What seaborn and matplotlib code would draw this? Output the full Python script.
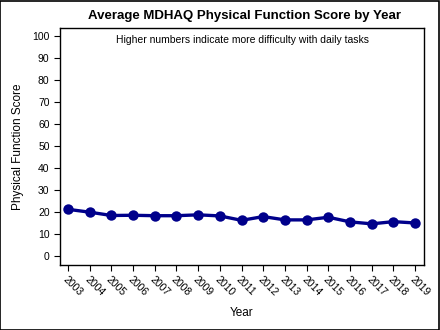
import matplotlib
matplotlib.use("Agg")
import matplotlib.pyplot as plt
import seaborn as sns
import pandas as pd
from matplotlib.patches import Rectangle

years = ["2003", "2004", "2005", "2006", "2007", "2008", "2009", "2010", "2011",
         "2012", "2013", "2014", "2015", "2016", "2017", "2018", "2019"]
scores = [21.2, 19.9, 18.4, 18.5, 18.3, 18.3, 18.7, 18.2, 16.2,
          17.9, 16.4, 16.4, 17.6, 15.5, 14.6, 15.6, 15.0]
yticks = list(range(0, 101, 10))

sns.set_style("white")
plt.rcParams['font.family'] = ['Liberation Sans', 'DejaVu Sans']
plt.rcParams['text.color'] = 'black'
plt.rcParams['axes.labelcolor'] = 'black'
plt.rcParams['xtick.color'] = 'black'
plt.rcParams['ytick.color'] = 'black'

df = pd.DataFrame({"Year": years, "Score": scores})
df["pos"] = range(len(years))

fig = plt.figure(figsize=(4.4, 3.3), dpi=100)
ax = fig.add_axes([60/440, 65/330, 364/440, 237/330])

sns.lineplot(data=df, x="pos", y="Score", ax=ax, color="#00008B",
             linewidth=2.4, marker="o", markersize=7.5, markeredgewidth=0)

ax.set_xlim(-0.37, len(years) - 1 + 0.41)
ax.set_ylim(-4.1, 103.6)
ax.set_yticks(yticks)
ax.set_yticklabels([str(v) for v in yticks], fontsize=7.5)
ax.set_xticks(range(len(years)))
ax.set_xticklabels(years, rotation=-45, ha="left", va="top",
                   rotation_mode="anchor", fontsize=7.5)
ax.tick_params(axis="both", which="both", direction="out", length=4,
               width=0.8, color="black", labelcolor="black", left=True, bottom=True)
ax.tick_params(axis="x", pad=3)
for s in ax.spines.values():
    s.set_color("black")
    s.set_linewidth(1.0)

ax.set_xlabel("Year", fontsize=8.5, labelpad=6, color="black")
ax.set_ylabel("Physical Function Score", fontsize=8.5, labelpad=6, color="black")
ax.text(0.5, 0.97, "Higher numbers indicate more difficulty with daily tasks",
        transform=ax.transAxes, ha="center", va="top", fontsize=7.5, color="black")
fig.text(0.555, 0.952, "Average MDHAQ Physical Function Score by Year",
         ha="center", va="center", fontsize=9.5, fontweight="bold", color="black")

fig.patches.append(Rectangle((0.001, 0.001), 0.997, 0.997, transform=fig.transFigure,
                             fill=False, edgecolor="black", linewidth=1.2))

fig.savefig("out.png", dpi=100)
